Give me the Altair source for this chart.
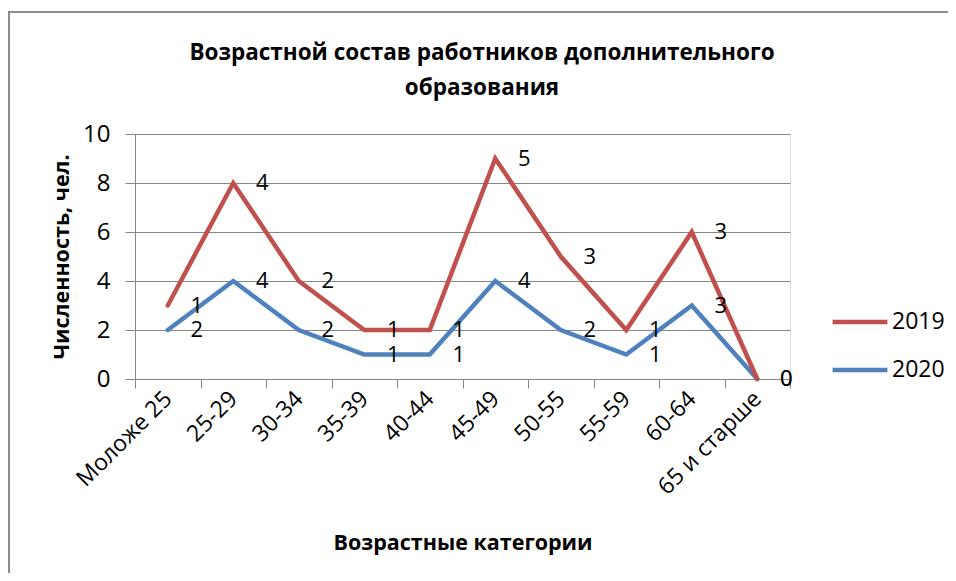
import altair as alt
import pandas as pd

categories = ["Моложе 25", "25-29", "30-34", "35-39", "40-44", "45-49", "50-55", "55-59", "60-64", "65 и старше"]
values_2020 = [2, 4, 2, 1, 1, 4, 2, 1, 3, 0]
values_2019 = [1, 4, 2, 1, 1, 5, 3, 1, 3, 0]
series = ["2019", "2020"]
colors = ["#C0504D", "#4F81BD"]

title_lines = ["Возрастной состав работников дополнительного", "образования"]
x_title = "Возрастные категории"
y_title = "Численность, чел."
y_ticks = [0, 2, 4, 6, 8, 10]

rows = []
for i, c in enumerate(categories):
    rows.append({"category": c, "series": "2020", "value": values_2020[i], "ord": 0})
    rows.append({"category": c, "series": "2019", "value": values_2019[i], "ord": 1})
df = pd.DataFrame(rows)

FONT = "Open Sans"
GRID = "#868686"
W, H = 655, 245

base = alt.Chart(df).transform_stack(
    stack="value", groupby=["category"], as_=["y0", "y1"],
    sort=[alt.SortField("ord", order="ascending")]
)

x_enc = alt.X(
    "category:N", sort=categories, bandPosition=0.5,
    scale=alt.Scale(type="band", paddingInner=0, paddingOuter=0),
    axis=alt.Axis(
        title=x_title, labelAngle=-45, labelAlign="right", labelBaseline="middle",
        labelFont=FONT, labelFontSize=23, labelColor="#000000", labelPadding=7,
        tickBand="extent", tickSize=9, tickColor=GRID, domainColor=GRID,
        titleFont=FONT, titleFontSize=21.5, titleFontWeight="bold", titleColor="#000000",
        titleX=W / 2, titleY=164, titleBaseline="middle", titleAnchor="middle",
        grid=False,
    ),
)
y_enc = alt.Y(
    "y1:Q",
    scale=alt.Scale(domain=[0, 10], nice=False),
    axis=alt.Axis(
        title=y_title, values=y_ticks, labelFont=FONT, labelFontSize=24, labelColor="#000000",
        labelPadding=15, tickSize=10, tickColor=GRID, domainColor=GRID,
        gridColor=GRID, grid=True,
        titleFont=FONT, titleFontSize=21.5, titleFontWeight="bold", titleColor="#000000",
        titleX=-73, titleY=H / 2, titleAngle=-90, titleBaseline="middle", titleAnchor="middle",
    ),
)
color_enc = alt.Color(
    "series:N", scale=alt.Scale(domain=series, range=colors),
    legend=alt.Legend(
        title=None, orient="none", legendX=695, legendY=158,
        symbolType="stroke", symbolSize=3000, symbolStrokeWidth=4.5,
        labelFont=FONT, labelFontSize=23, labelColor="#000000", labelOffset=2,
        rowPadding=6,
    ),
)

lines = base.mark_line(strokeWidth=4.5, strokeCap="round").encode(
    x=x_enc, y=y_enc, color=color_enc, order=alt.Order("ord:Q")
)
labels = base.mark_text(dx=29, align="center", baseline="middle", font=FONT, fontSize=22, color="#000000").encode(
    x=alt.X("category:N", sort=categories, bandPosition=0.5),
    y=alt.Y("y1:Q"),
    text=alt.Text("value:Q"),
)

one = pd.DataFrame({"k": [0]})
frame_top = alt.Chart(one).mark_rule(color="#8c8c8c", strokeWidth=2).encode(
    x=alt.value(-127), x2=alt.value(830), y=alt.value(-122)
)
frame_left = alt.Chart(one).mark_rule(color="#8c8c8c", strokeWidth=2).encode(
    x=alt.value(-126), y=alt.value(-122), y2=alt.value(450)
)
title = alt.Chart(one).mark_text(
    font=FONT, fontSize=22.5, fontWeight="bold", color="#000000", lineHeight=35,
    align="center", baseline="alphabetic",
).encode(x=alt.value(347), y=alt.value(-74), text=alt.value(title_lines))

chart = alt.layer(frame_top, frame_left, title, lines, labels).properties(
    width=W, height=H,
    padding={"left": 127, "top": 126, "right": 158, "bottom": 194},
    autosize=alt.AutoSizeParams(type="none"),
).configure_view(stroke=None).configure(background="white")

chart.save("out.html", embed_options={"renderer": "svg", "actions": False})
